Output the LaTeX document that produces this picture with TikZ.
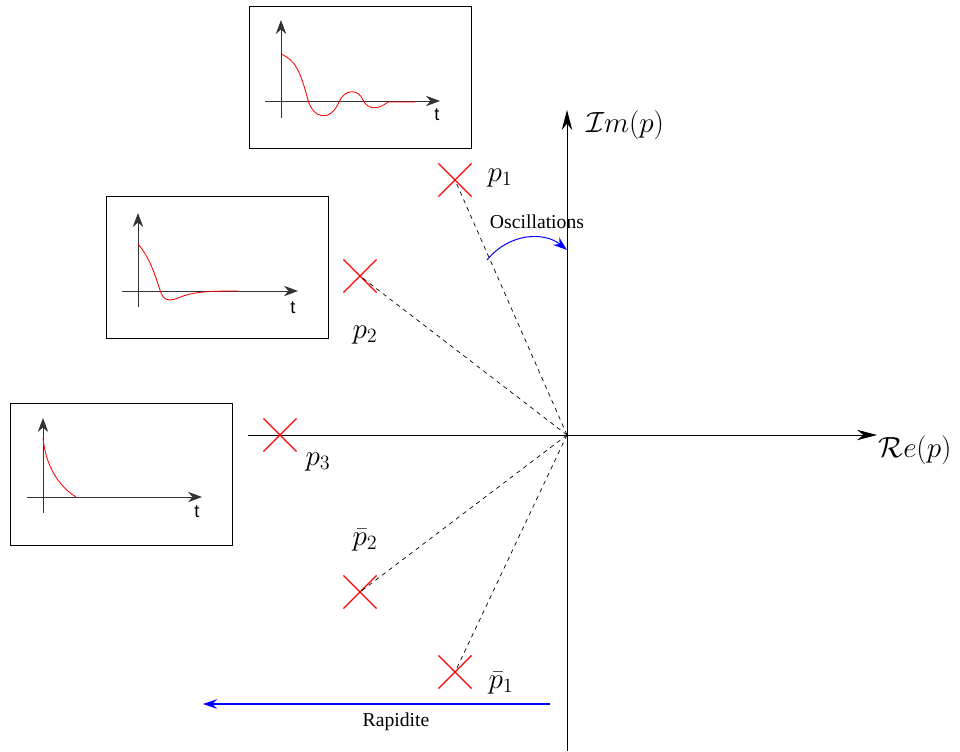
\documentclass[tikz,border=0pt]{standalone}
\usepackage{fontspec}
\setmainfont{Liberation Serif}
\setsansfont{Liberation Sans}
\usetikzlibrary{arrows.meta,shapes.misc}

\begin{document}
\begin{tikzpicture}[x=0.025cm, y=-0.025cm, >=Latex,
pole/.style={cross out, draw=red, line width=0.8pt, minimum size=8mm, inner sep=0pt},
polelabel/.style={font=\fontsize{20}{24}\selectfont, inner sep=0pt},
axis/.style={-{Stealth[length=5mm,width=2.6mm]}, line width=0.6pt},
mini/.style={-{Stealth[length=3.5mm,width=2.6mm]}, line width=0.7pt, black!80},
plotbox/.style={draw, line width=0.6pt, minimum width=5.55cm, minimum height=3.55cm, inner sep=0pt},
resp/.style={red, line width=0.6pt},
sens/.style={blue, line width=0.7pt, -{Stealth[length=3.5mm,width=2.4mm]}},
txt/.style={font=\fontsize{14}{17}\selectfont},
tlab/.style={font=\sffamily\fontsize{13}{15}\selectfont}]
\useasboundingbox (0,0) rectangle (960,751);
% pole plane
\coordinate (O) at (567,435);
\coordinate (re0) at (248,435);
\coordinate (re1) at (877,435);
\coordinate (im0) at (567,751);
\coordinate (im1) at (567,110);
\draw[axis] (re0) -- (re1);
\draw[axis] (im0) -- (im1);
\node[polelabel] (relab) at (915,450) {$\mathcal{R}e(p)$};
\node[polelabel] (imlab) at (625,125) {$\mathcal{I}m(p)$};
\node[pole] (p1) at (455,180) {};
\node[pole] (p2) at (360,276) {};
\node[pole] (p3) at (280,435) {};
\node[pole] (q2) at (360,592) {};
\node[pole] (q1) at (455,672) {};
\node[polelabel] at (500,178) {$p_1$};
\node[polelabel] at (365,335) {$p_2$};
\node[polelabel] at (318,462) {$p_3$};
\node[polelabel] at (365,540) {$\bar p_2$};
\node[polelabel] at (501,683) {$\bar p_1$};
\foreach \p in {p1,p2,q2,q1}
  \draw[dashed, line width=0.5pt] (O) -- (\p.center);
% sens of variation
\coordinate (osc0) at (487,260);
\coordinate (osc1) at (567,250);
\draw[sens] (osc0) .. controls (510,232) and (545,232) .. (osc1);
\node[txt] (osc) at (537,222) {Oscillations};
\coordinate (rap0) at (550,704);
\coordinate (rap1) at (203,704);
\draw[sens, line width=0.9pt] (rap0) -- (rap1);
\node[txt] (rap) at (396,722) {Rapidite};
% responses
\node[plotbox] (b1) at (360,77) {};
\draw[mini] (281,118) -- (281,20);
\draw[mini] (265,101) -- (440,101);
\node[tlab] at (437,115) {t};
\draw[resp] (281,54) .. controls (295,60) and (300,70) .. (308,100)
  .. controls (313,118) and (330,124) .. (340,100)
  .. controls (345,90) and (358,88) .. (363,100)
  .. controls (368,110) and (378,110) .. (388,102) -- (415,102);
\node[plotbox] (b2) at (217,267) {};
\draw[mini] (138,307) -- (138,213);
\draw[mini] (122,291) -- (298,291);
\node[tlab] at (293,308) {t};
\draw[resp] (138,244) .. controls (150,258) and (155,275) .. (160,290)
  .. controls (163,300) and (168,302) .. (178,298)
  .. controls (192,292) and (205,291) .. (238,291);
\node[plotbox] (b3) at (121,474) {};
\draw[mini] (43,513) -- (43,418);
\draw[mini] (27,497) -- (202,497);
\node[tlab] at (197,512) {t};
\draw[resp] (43,438) .. controls (46,468) and (60,487) .. (76,497);
\end{tikzpicture}
\end{document}
